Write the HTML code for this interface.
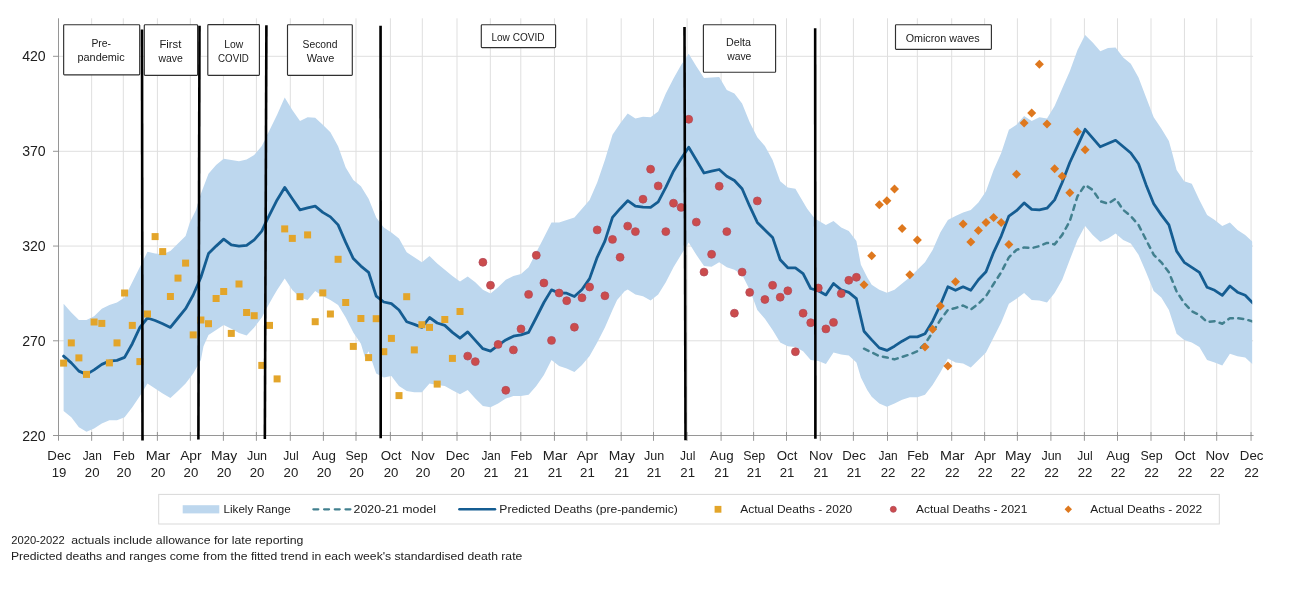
<!DOCTYPE html>
<html lang="en"><head><meta charset="utf-8"><title>Weekly deaths: predicted vs actual</title>
<style>
html,body{margin:0;padding:0;background:#fff;}
body{width:1314px;height:589px;overflow:hidden;font-family:"Liberation Sans", sans-serif;}
svg{display:block;}
text{font-family:"Liberation Sans", sans-serif;fill:#202020;}
.ax{font-size:14.1px;}
.xl{font-size:13.2px;text-anchor:middle;}
.bx{font-size:10px;text-anchor:middle;}
.lg{font-size:11.6px;}
.fn{font-size:10.5px;}
</style></head><body>
<svg width="1314" height="589" viewBox="0 0 1314 589">
<rect x="0" y="0" width="1314" height="589" fill="#ffffff"/>
<defs><clipPath id="plot"><rect x="58.5" y="18.3" width="1193.7" height="423.2"/></clipPath></defs>

<g stroke="#dfdfdf" stroke-width="1" fill="none">
<line x1="91.65" y1="18.3" x2="91.65" y2="435.5"/>
<line x1="123.3" y1="18.3" x2="123.3" y2="435.5"/>
<line x1="157.4" y1="18.3" x2="157.4" y2="435.5"/>
<line x1="190.35" y1="18.3" x2="190.35" y2="435.5"/>
<line x1="223.4" y1="18.3" x2="223.4" y2="435.5"/>
<line x1="256.4" y1="18.3" x2="256.4" y2="435.5"/>
<line x1="290.3" y1="18.3" x2="290.3" y2="435.5"/>
<line x1="323.4" y1="18.3" x2="323.4" y2="435.5"/>
<line x1="356.0" y1="18.3" x2="356.0" y2="435.5"/>
<line x1="390.4" y1="18.3" x2="390.4" y2="435.5"/>
<line x1="422.3" y1="18.3" x2="422.3" y2="435.5"/>
<line x1="457.0" y1="18.3" x2="457.0" y2="435.5"/>
<line x1="490.35" y1="18.3" x2="490.35" y2="435.5"/>
<line x1="520.8" y1="18.3" x2="520.8" y2="435.5"/>
<line x1="554.45" y1="18.3" x2="554.45" y2="435.5"/>
<line x1="586.8" y1="18.3" x2="586.8" y2="435.5"/>
<line x1="621.2" y1="18.3" x2="621.2" y2="435.5"/>
<line x1="653.5" y1="18.3" x2="653.5" y2="435.5"/>
<line x1="687.1" y1="18.3" x2="687.1" y2="435.5"/>
<line x1="721.1" y1="18.3" x2="721.1" y2="435.5"/>
<line x1="753.6" y1="18.3" x2="753.6" y2="435.5"/>
<line x1="786.5" y1="18.3" x2="786.5" y2="435.5"/>
<line x1="820.3" y1="18.3" x2="820.3" y2="435.5"/>
<line x1="853.4" y1="18.3" x2="853.4" y2="435.5"/>
<line x1="887.5" y1="18.3" x2="887.5" y2="435.5"/>
<line x1="917.35" y1="18.3" x2="917.35" y2="435.5"/>
<line x1="951.7" y1="18.3" x2="951.7" y2="435.5"/>
<line x1="984.6" y1="18.3" x2="984.6" y2="435.5"/>
<line x1="1017.4" y1="18.3" x2="1017.4" y2="435.5"/>
<line x1="1050.9" y1="18.3" x2="1050.9" y2="435.5"/>
<line x1="1084.4" y1="18.3" x2="1084.4" y2="435.5"/>
<line x1="1117.5" y1="18.3" x2="1117.5" y2="435.5"/>
<line x1="1151.0" y1="18.3" x2="1151.0" y2="435.5"/>
<line x1="1184.45" y1="18.3" x2="1184.45" y2="435.5"/>
<line x1="1216.7" y1="18.3" x2="1216.7" y2="435.5"/>
<line x1="1251.05" y1="18.3" x2="1251.05" y2="435.5"/>
<line x1="58.5" y1="56.3" x2="1253.1" y2="56.3"/>
<line x1="58.5" y1="151.3" x2="1253.1" y2="151.3"/>
<line x1="58.5" y1="246.05" x2="1253.1" y2="246.05"/>
<line x1="58.5" y1="340.8" x2="1253.1" y2="340.8"/>
</g>
<g clip-path="url(#plot)"><polygon points="63.6,303.7 71.3,312.5 78.9,320.0 86.5,320.0 94.1,316.2 101.8,308.7 109.4,305.0 117.0,302.5 124.6,297.5 147.5,251.8 155.1,253.6 162.7,254.3 170.4,251.1 178.0,243.6 185.6,236.1 189.8,222.4 196.0,209.9 200.9,193.7 208.5,173.7 216.1,165.0 223.7,158.7 231.3,160.0 239.0,161.2 246.6,159.5 254.2,155.0 261.8,146.0 277.1,114.8 284.7,97.4 292.3,109.9 300.0,121.1 307.6,117.3 315.2,117.8 322.8,124.8 330.4,132.3 338.1,146.2 345.7,167.5 353.3,180.0 360.9,186.2 368.6,198.7 376.2,217.4 383.8,227.4 391.4,232.4 399.0,238.6 406.7,252.3 414.3,257.3 421.9,262.3 429.5,256.1 437.2,263.6 444.8,269.8 452.4,276.1 460.0,281.6 467.7,276.6 475.3,282.3 482.9,289.8 490.5,293.5 498.1,287.3 505.8,279.8 513.4,276.1 521.0,274.1 528.6,267.3 536.3,252.3 543.9,237.4 551.5,222.4 559.1,222.4 566.7,219.9 574.4,217.4 582.0,208.7 589.6,199.9 597.2,182.5 604.9,160.0 612.5,134.8 620.1,123.6 627.7,113.6 635.4,118.6 643.0,116.8 650.6,117.3 658.2,111.5 665.8,93.6 673.5,78.6 681.1,64.9 688.7,53.7 696.3,66.2 704.0,77.9 711.6,77.4 719.2,76.9 726.8,89.9 734.4,93.6 742.1,103.6 749.7,122.3 757.3,137.3 764.9,146.0 772.6,160.0 780.2,181.2 787.8,187.4 795.4,188.7 799.8,196.2 807.2,208.7 814.7,218.6 825.9,224.9 833.5,221.1 841.2,227.4 848.8,231.1 856.4,241.1 860.9,264.8 867.2,277.3 871.7,284.8 879.3,289.8 886.9,292.8 894.5,289.8 902.1,283.5 909.8,277.3 917.4,269.8 925.0,262.3 932.6,249.9 940.3,232.4 947.9,219.9 955.5,216.1 963.1,212.4 970.8,209.9 978.4,202.4 986.0,191.2 993.6,170.0 1001.2,153.0 1008.9,129.8 1016.5,124.8 1024.1,116.1 1031.7,121.1 1039.4,117.3 1047.0,118.6 1054.6,106.1 1062.2,88.6 1069.8,71.2 1077.5,49.9 1085.1,35.0 1092.7,42.5 1100.3,51.2 1108.0,47.9 1115.6,47.4 1123.2,57.4 1130.8,63.7 1138.5,77.4 1146.1,97.4 1153.7,117.3 1161.3,128.6 1168.9,141.0 1172.2,153.0 1176.6,170.0 1184.2,181.2 1191.8,183.7 1199.4,199.9 1207.1,214.9 1214.7,219.9 1222.3,226.1 1229.9,222.4 1237.5,229.9 1245.2,234.9 1252.8,242.0 1252.8,364.5 1245.2,357.4 1237.5,356.2 1229.9,353.7 1222.3,365.6 1214.7,362.4 1207.1,359.9 1199.4,346.9 1191.8,342.4 1184.2,339.9 1176.6,333.7 1168.9,310.0 1161.3,297.5 1153.7,291.0 1146.1,272.3 1138.5,254.8 1130.8,243.6 1123.2,239.9 1115.6,233.6 1108.0,238.6 1100.3,241.9 1092.7,234.9 1085.1,226.1 1077.5,239.9 1069.8,259.8 1062.2,279.8 1054.6,293.0 1047.0,302.5 1039.4,300.5 1031.7,300.0 1024.1,293.0 1016.5,298.7 1008.9,303.7 1001.2,322.4 993.6,337.4 986.0,352.4 978.4,359.9 970.8,367.4 963.1,363.4 955.5,362.4 947.9,358.6 940.3,372.4 932.6,384.9 925.0,394.8 917.4,397.3 909.8,397.3 902.1,399.8 894.5,403.6 886.9,406.8 879.3,403.6 871.7,396.8 867.2,389.9 860.9,377.4 856.4,362.4 848.8,355.4 841.2,354.4 833.5,352.4 825.9,364.1 818.3,361.1 810.7,359.9 803.1,351.2 795.4,346.9 787.8,346.2 780.2,342.4 772.6,329.9 764.9,318.7 757.3,310.0 753.6,300.0 749.7,289.8 742.1,274.8 734.4,269.8 726.8,267.3 719.2,262.3 711.6,266.8 704.0,266.1 696.3,254.8 688.7,242.4 681.1,254.8 673.5,267.3 665.8,282.3 658.2,294.5 650.6,300.5 643.0,296.2 635.4,294.5 627.7,289.5 624.6,291.2 617.1,300.0 612.5,310.0 604.9,327.4 597.2,342.4 589.6,356.1 582.0,364.9 574.4,371.9 566.7,368.6 559.1,366.1 551.5,359.9 543.9,374.9 536.3,386.1 528.6,394.8 521.0,396.1 513.4,396.1 505.8,398.6 498.1,403.6 490.5,407.3 482.9,406.1 475.3,398.6 467.7,389.9 460.0,394.3 452.4,390.3 444.8,386.1 437.2,384.9 429.5,383.6 421.9,392.3 414.3,392.3 406.7,391.1 399.0,386.1 391.4,376.1 383.8,377.4 376.2,373.6 368.6,351.2 365.0,357.4 360.9,343.7 353.3,332.4 345.7,317.5 338.1,305.0 330.4,300.0 322.8,296.2 315.2,291.0 307.6,300.0 300.0,297.5 292.3,290.0 284.7,278.6 277.1,290.0 273.4,296.2 266.4,308.7 261.8,317.5 254.2,327.4 246.6,335.4 239.0,332.9 231.3,328.7 223.7,324.9 216.1,329.9 208.5,334.9 203.5,346.2 200.9,359.9 193.2,373.6 185.6,383.6 178.0,391.1 170.4,398.1 162.7,393.6 155.1,388.6 147.5,383.6 139.9,396.1 132.3,407.3 124.6,417.3 117.0,420.3 109.4,420.3 101.8,423.5 94.1,428.5 86.5,431.8 78.9,427.3 71.3,417.3 63.6,411.1" fill="#bdd7ee"/></g>
<g stroke="#8a8a8a" stroke-width="0.9" fill="none">
<line x1="58.5" y1="18.3" x2="58.5" y2="440.7"/>
<line x1="53.0" y1="435.5" x2="1253.6" y2="435.5"/>
<line x1="53.0" y1="56.3" x2="58.5" y2="56.3"/>
<line x1="53.0" y1="151.3" x2="58.5" y2="151.3"/>
<line x1="53.0" y1="246.05" x2="58.5" y2="246.05"/>
<line x1="53.0" y1="340.8" x2="58.5" y2="340.8"/>
<line x1="91.65" y1="432.0" x2="91.65" y2="440.8"/>
<line x1="123.3" y1="432.0" x2="123.3" y2="440.8"/>
<line x1="157.4" y1="432.0" x2="157.4" y2="440.8"/>
<line x1="190.35" y1="432.0" x2="190.35" y2="440.8"/>
<line x1="223.4" y1="432.0" x2="223.4" y2="440.8"/>
<line x1="256.4" y1="432.0" x2="256.4" y2="440.8"/>
<line x1="290.3" y1="432.0" x2="290.3" y2="440.8"/>
<line x1="323.4" y1="432.0" x2="323.4" y2="440.8"/>
<line x1="356.0" y1="432.0" x2="356.0" y2="440.8"/>
<line x1="390.4" y1="432.0" x2="390.4" y2="440.8"/>
<line x1="422.3" y1="432.0" x2="422.3" y2="440.8"/>
<line x1="457.0" y1="432.0" x2="457.0" y2="440.8"/>
<line x1="490.35" y1="432.0" x2="490.35" y2="440.8"/>
<line x1="520.8" y1="432.0" x2="520.8" y2="440.8"/>
<line x1="554.45" y1="432.0" x2="554.45" y2="440.8"/>
<line x1="586.8" y1="432.0" x2="586.8" y2="440.8"/>
<line x1="621.2" y1="432.0" x2="621.2" y2="440.8"/>
<line x1="653.5" y1="432.0" x2="653.5" y2="440.8"/>
<line x1="687.1" y1="432.0" x2="687.1" y2="440.8"/>
<line x1="721.1" y1="432.0" x2="721.1" y2="440.8"/>
<line x1="753.6" y1="432.0" x2="753.6" y2="440.8"/>
<line x1="786.5" y1="432.0" x2="786.5" y2="440.8"/>
<line x1="820.3" y1="432.0" x2="820.3" y2="440.8"/>
<line x1="853.4" y1="432.0" x2="853.4" y2="440.8"/>
<line x1="887.5" y1="432.0" x2="887.5" y2="440.8"/>
<line x1="917.35" y1="432.0" x2="917.35" y2="440.8"/>
<line x1="951.7" y1="432.0" x2="951.7" y2="440.8"/>
<line x1="984.6" y1="432.0" x2="984.6" y2="440.8"/>
<line x1="1017.4" y1="432.0" x2="1017.4" y2="440.8"/>
<line x1="1050.9" y1="432.0" x2="1050.9" y2="440.8"/>
<line x1="1084.4" y1="432.0" x2="1084.4" y2="440.8"/>
<line x1="1117.5" y1="432.0" x2="1117.5" y2="440.8"/>
<line x1="1151.0" y1="432.0" x2="1151.0" y2="440.8"/>
<line x1="1184.45" y1="432.0" x2="1184.45" y2="440.8"/>
<line x1="1216.7" y1="432.0" x2="1216.7" y2="440.8"/>
<line x1="1251.05" y1="432.0" x2="1251.05" y2="440.8"/>
</g>
<g clip-path="url(#plot)" fill="none" stroke-linejoin="round" stroke-linecap="round">
<polyline points="864.0,348.7 871.7,352.4 879.3,356.1 886.9,357.4 894.5,359.4 902.1,356.9 909.8,354.4 917.4,351.2 925.0,343.7 932.6,332.4 940.3,320.0 947.9,309.8 955.5,308.0 963.1,305.5 970.8,309.5 978.4,303.7 986.0,296.2 993.6,284.0 1001.2,272.3 1008.9,257.3 1016.5,249.9 1024.1,247.4 1031.7,248.1 1039.4,246.1 1047.0,242.9 1054.6,244.4 1062.2,234.9 1069.8,221.1 1077.5,196.2 1085.1,184.9 1092.7,189.9 1100.3,201.2 1108.0,203.7 1115.6,198.7 1123.2,209.9 1130.8,216.1 1138.5,224.9 1146.1,239.9 1153.7,254.8 1161.3,262.3 1168.9,272.3 1176.6,291.5 1184.2,303.0 1191.8,311.2 1199.4,315.0 1207.1,322.0 1214.7,321.2 1222.3,323.7 1229.9,318.2 1237.5,318.2 1245.2,319.2 1252.8,321.5" stroke="#42808f" stroke-width="2.5" stroke-dasharray="5 5.3" stroke-linecap="round"/>
<polyline points="63.6,356.1 71.3,362.9 78.9,371.1 86.5,374.4 94.1,369.9 101.8,364.4 109.4,361.1 117.0,360.4 124.6,357.4 132.3,343.7 139.9,327.4 147.5,318.0 155.1,320.5 162.7,323.7 170.4,327.4 178.0,318.0 185.6,308.7 193.2,295.0 200.9,277.3 208.5,253.6 216.1,246.1 223.7,239.1 231.3,244.9 239.0,246.1 246.6,245.4 254.2,239.9 261.8,231.1 266.4,221.1 277.1,199.9 284.7,187.4 292.3,198.7 300.0,209.9 307.6,207.9 315.2,206.2 322.8,212.4 330.4,216.9 338.1,224.9 345.7,242.4 353.3,258.6 360.9,266.1 368.6,272.3 376.2,296.1 383.8,302.0 391.4,303.7 399.0,310.0 406.7,321.7 414.3,324.4 421.9,327.4 429.5,317.5 437.2,323.0 444.8,325.4 452.4,332.4 460.0,338.2 467.7,331.9 475.3,340.4 482.9,348.7 490.5,351.2 498.1,345.4 505.8,339.9 513.4,336.2 521.0,334.9 528.6,332.4 536.3,317.5 543.9,302.5 551.5,289.9 559.1,293.0 566.7,293.2 574.4,296.5 582.0,289.5 589.6,278.6 597.2,257.3 604.9,241.1 612.5,217.4 620.1,208.7 627.7,200.7 635.4,206.2 643.0,207.2 650.6,207.4 658.2,201.9 665.8,187.4 673.5,171.2 681.1,158.7 688.7,147.2 696.3,160.0 704.0,173.0 711.6,171.2 719.2,169.5 726.8,176.2 734.4,180.5 742.1,188.7 749.7,206.2 757.3,222.4 764.9,229.9 772.6,237.4 780.2,259.8 787.8,267.8 795.4,267.8 803.1,273.6 810.7,288.5 818.3,290.7 825.9,294.9 833.5,283.5 841.2,289.9 848.8,292.4 856.4,298.7 864.0,331.2 871.7,339.9 879.3,347.9 886.9,350.4 894.5,346.2 902.1,341.2 909.8,336.9 917.4,336.9 925.0,333.7 932.6,321.2 940.3,305.0 947.9,286.8 955.5,290.3 963.1,286.8 970.8,290.3 978.4,279.8 986.0,271.8 993.6,252.3 1001.2,236.1 1008.9,216.1 1016.5,210.7 1024.1,202.9 1031.7,209.4 1039.4,209.9 1047.0,208.2 1054.6,199.9 1062.2,182.5 1069.8,162.5 1077.5,145.8 1085.1,129.3 1100.3,146.8 1115.6,140.3 1130.8,153.0 1138.5,163.7 1146.1,184.9 1153.7,203.7 1161.3,214.9 1168.9,224.9 1176.6,251.1 1184.2,262.3 1191.8,267.3 1199.4,272.3 1207.1,287.3 1214.7,290.3 1222.3,295.4 1229.9,286.0 1237.5,292.2 1245.2,295.2 1252.8,303.0" stroke="#155d92" stroke-width="2.8"/>
</g>
<g fill="#e3a52a">
<rect x="60.1" y="359.6" width="7" height="7"/>
<rect x="67.8" y="339.4" width="7" height="7"/>
<rect x="75.4" y="354.4" width="7" height="7"/>
<rect x="83.0" y="370.9" width="7" height="7"/>
<rect x="90.6" y="318.5" width="7" height="7"/>
<rect x="98.3" y="319.9" width="7" height="7"/>
<rect x="105.9" y="359.4" width="7" height="7"/>
<rect x="113.5" y="339.4" width="7" height="7"/>
<rect x="121.1" y="289.5" width="7" height="7"/>
<rect x="128.8" y="321.9" width="7" height="7"/>
<rect x="136.4" y="358.1" width="7" height="7"/>
<rect x="144.0" y="310.5" width="7" height="7"/>
<rect x="151.6" y="233.1" width="7" height="7"/>
<rect x="159.2" y="248.1" width="7" height="7"/>
<rect x="166.9" y="293.0" width="7" height="7"/>
<rect x="174.5" y="274.6" width="7" height="7"/>
<rect x="182.1" y="259.6" width="7" height="7"/>
<rect x="189.7" y="331.4" width="7" height="7"/>
<rect x="197.4" y="316.5" width="7" height="7"/>
<rect x="205.0" y="320.2" width="7" height="7"/>
<rect x="212.6" y="295.0" width="7" height="7"/>
<rect x="220.2" y="288.0" width="7" height="7"/>
<rect x="227.8" y="329.9" width="7" height="7"/>
<rect x="235.5" y="280.5" width="7" height="7"/>
<rect x="243.1" y="309.0" width="7" height="7"/>
<rect x="250.7" y="312.2" width="7" height="7"/>
<rect x="258.3" y="361.9" width="7" height="7"/>
<rect x="266.0" y="321.9" width="7" height="7"/>
<rect x="273.6" y="375.4" width="7" height="7"/>
<rect x="281.2" y="225.4" width="7" height="7"/>
<rect x="288.8" y="234.9" width="7" height="7"/>
<rect x="296.5" y="293.2" width="7" height="7"/>
<rect x="304.1" y="231.4" width="7" height="7"/>
<rect x="311.7" y="318.2" width="7" height="7"/>
<rect x="319.3" y="289.4" width="7" height="7"/>
<rect x="326.9" y="310.5" width="7" height="7"/>
<rect x="334.6" y="255.8" width="7" height="7"/>
<rect x="342.2" y="299.0" width="7" height="7"/>
<rect x="349.8" y="342.9" width="7" height="7"/>
<rect x="357.4" y="315.0" width="7" height="7"/>
<rect x="365.1" y="354.1" width="7" height="7"/>
<rect x="372.7" y="315.2" width="7" height="7"/>
<rect x="380.3" y="348.2" width="7" height="7"/>
<rect x="387.9" y="334.9" width="7" height="7"/>
<rect x="395.5" y="392.1" width="7" height="7"/>
<rect x="403.2" y="293.2" width="7" height="7"/>
<rect x="410.8" y="346.4" width="7" height="7"/>
<rect x="418.4" y="321.2" width="7" height="7"/>
<rect x="426.0" y="323.9" width="7" height="7"/>
<rect x="433.7" y="380.6" width="7" height="7"/>
<rect x="441.3" y="316.0" width="7" height="7"/>
<rect x="448.9" y="354.9" width="7" height="7"/>
<rect x="456.5" y="308.0" width="7" height="7"/>
</g><g fill="#cb4c4c" stroke="#b4495a" stroke-width="0.8">
<circle cx="467.7" cy="356.1" r="3.95"/>
<circle cx="475.3" cy="361.6" r="3.95"/>
<circle cx="482.9" cy="262.3" r="3.95"/>
<circle cx="490.5" cy="285.3" r="3.95"/>
<circle cx="498.1" cy="344.4" r="3.95"/>
<circle cx="505.8" cy="390.3" r="3.95"/>
<circle cx="513.4" cy="349.9" r="3.95"/>
<circle cx="521.0" cy="328.9" r="3.95"/>
<circle cx="528.6" cy="294.4" r="3.95"/>
<circle cx="536.3" cy="255.3" r="3.95"/>
<circle cx="543.9" cy="283.0" r="3.95"/>
<circle cx="551.5" cy="340.4" r="3.95"/>
<circle cx="559.1" cy="293.0" r="3.95"/>
<circle cx="566.7" cy="300.7" r="3.95"/>
<circle cx="574.4" cy="327.2" r="3.95"/>
<circle cx="582.0" cy="297.8" r="3.95"/>
<circle cx="589.6" cy="287.0" r="3.95"/>
<circle cx="597.2" cy="229.9" r="3.95"/>
<circle cx="604.9" cy="295.8" r="3.95"/>
<circle cx="612.5" cy="239.4" r="3.95"/>
<circle cx="620.1" cy="257.3" r="3.95"/>
<circle cx="627.7" cy="226.1" r="3.95"/>
<circle cx="635.4" cy="231.6" r="3.95"/>
<circle cx="643.0" cy="199.2" r="3.95"/>
<circle cx="650.6" cy="169.2" r="3.95"/>
<circle cx="658.2" cy="185.9" r="3.95"/>
<circle cx="665.8" cy="231.6" r="3.95"/>
<circle cx="673.5" cy="203.2" r="3.95"/>
<circle cx="681.1" cy="207.4" r="3.95"/>
<circle cx="688.7" cy="119.3" r="3.95"/>
<circle cx="696.3" cy="222.1" r="3.95"/>
<circle cx="704.0" cy="272.1" r="3.95"/>
<circle cx="711.6" cy="254.3" r="3.95"/>
<circle cx="719.2" cy="186.2" r="3.95"/>
<circle cx="726.8" cy="231.6" r="3.95"/>
<circle cx="734.4" cy="313.2" r="3.95"/>
<circle cx="742.1" cy="272.1" r="3.95"/>
<circle cx="749.7" cy="292.4" r="3.95"/>
<circle cx="757.3" cy="200.9" r="3.95"/>
<circle cx="764.9" cy="299.5" r="3.95"/>
<circle cx="772.6" cy="285.3" r="3.95"/>
<circle cx="780.2" cy="297.2" r="3.95"/>
<circle cx="787.8" cy="290.8" r="3.95"/>
<circle cx="795.4" cy="351.7" r="3.95"/>
<circle cx="803.1" cy="313.2" r="3.95"/>
<circle cx="810.7" cy="322.7" r="3.95"/>
<circle cx="818.3" cy="288.0" r="3.95"/>
<circle cx="825.9" cy="328.9" r="3.95"/>
<circle cx="833.5" cy="322.4" r="3.95"/>
<circle cx="841.2" cy="293.6" r="3.95"/>
<circle cx="848.8" cy="280.3" r="3.95"/>
<circle cx="856.4" cy="277.3" r="3.95"/>
</g><g fill="#de781e">
<path d="M864.0 280.3l4.5 4.5l-4.5 4.5l-4.5 -4.5z"/>
<path d="M871.7 251.3l4.5 4.5l-4.5 4.5l-4.5 -4.5z"/>
<path d="M879.3 200.2l4.5 4.5l-4.5 4.5l-4.5 -4.5z"/>
<path d="M886.9 196.2l4.5 4.5l-4.5 4.5l-4.5 -4.5z"/>
<path d="M894.5 184.4l4.5 4.5l-4.5 4.5l-4.5 -4.5z"/>
<path d="M902.1 224.1l4.5 4.5l-4.5 4.5l-4.5 -4.5z"/>
<path d="M909.8 270.3l4.5 4.5l-4.5 4.5l-4.5 -4.5z"/>
<path d="M917.4 235.4l4.5 4.5l-4.5 4.5l-4.5 -4.5z"/>
<path d="M925.0 342.4l4.5 4.5l-4.5 4.5l-4.5 -4.5z"/>
<path d="M932.6 324.7l4.5 4.5l-4.5 4.5l-4.5 -4.5z"/>
<path d="M940.3 301.5l4.5 4.5l-4.5 4.5l-4.5 -4.5z"/>
<path d="M947.9 361.6l4.5 4.5l-4.5 4.5l-4.5 -4.5z"/>
<path d="M955.5 277.3l4.5 4.5l-4.5 4.5l-4.5 -4.5z"/>
<path d="M963.1 219.4l4.5 4.5l-4.5 4.5l-4.5 -4.5z"/>
<path d="M970.8 237.4l4.5 4.5l-4.5 4.5l-4.5 -4.5z"/>
<path d="M978.4 225.9l4.5 4.5l-4.5 4.5l-4.5 -4.5z"/>
<path d="M986.0 217.9l4.5 4.5l-4.5 4.5l-4.5 -4.5z"/>
<path d="M993.6 212.9l4.5 4.5l-4.5 4.5l-4.5 -4.5z"/>
<path d="M1001.2 217.9l4.5 4.5l-4.5 4.5l-4.5 -4.5z"/>
<path d="M1008.9 239.9l4.5 4.5l-4.5 4.5l-4.5 -4.5z"/>
<path d="M1016.5 169.7l4.5 4.5l-4.5 4.5l-4.5 -4.5z"/>
<path d="M1024.1 118.6l4.5 4.5l-4.5 4.5l-4.5 -4.5z"/>
<path d="M1031.7 108.6l4.5 4.5l-4.5 4.5l-4.5 -4.5z"/>
<path d="M1039.4 59.7l4.5 4.5l-4.5 4.5l-4.5 -4.5z"/>
<path d="M1047.0 119.6l4.5 4.5l-4.5 4.5l-4.5 -4.5z"/>
<path d="M1054.6 164.2l4.5 4.5l-4.5 4.5l-4.5 -4.5z"/>
<path d="M1062.2 171.7l4.5 4.5l-4.5 4.5l-4.5 -4.5z"/>
<path d="M1069.8 188.2l4.5 4.5l-4.5 4.5l-4.5 -4.5z"/>
<path d="M1077.5 127.3l4.5 4.5l-4.5 4.5l-4.5 -4.5z"/>
<path d="M1085.1 145.3l4.5 4.5l-4.5 4.5l-4.5 -4.5z"/>
</g>
<g stroke="#000" stroke-width="2.6" fill="none">
<line x1="142.0" y1="29.4" x2="142.5" y2="440.5"/>
<line x1="199.5" y1="25.8" x2="198.4" y2="439.6"/>
<line x1="266.4" y1="25.2" x2="264.85" y2="439.0"/>
<line x1="380.55" y1="25.7" x2="380.7" y2="438.2"/>
<line x1="684.5" y1="27.0" x2="685.5" y2="440.2"/>
<line x1="815.15" y1="28.2" x2="815.4" y2="438.7"/>
</g>
<rect x="63.65" y="24.75" width="76.05" height="50.15" rx="0.8" fill="#fff" stroke="#303030" stroke-width="1.15"/>
<text class="bx" x="101.2" y="47.0" textLength="19.6" lengthAdjust="spacingAndGlyphs">Pre-</text>
<text class="bx" x="101.1" y="60.9" textLength="47.2" lengthAdjust="spacingAndGlyphs">pandemic</text>
<rect x="144.3" y="24.75" width="53.30" height="50.55" rx="0.8" fill="#fff" stroke="#303030" stroke-width="1.15"/>
<text class="bx" x="170.4" y="47.9" textLength="22.0" lengthAdjust="spacingAndGlyphs">First</text>
<text class="bx" x="170.7" y="61.9" textLength="24.5" lengthAdjust="spacingAndGlyphs">wave</text>
<rect x="207.8" y="24.6" width="51.60" height="50.70" rx="0.8" fill="#fff" stroke="#303030" stroke-width="1.15"/>
<text class="bx" x="233.7" y="47.9" textLength="19.0" lengthAdjust="spacingAndGlyphs">Low</text>
<text class="bx" x="233.5" y="61.9" textLength="30.8" lengthAdjust="spacingAndGlyphs">COVID</text>
<rect x="287.5" y="24.75" width="64.80" height="50.55" rx="0.8" fill="#fff" stroke="#303030" stroke-width="1.15"/>
<text class="bx" x="320.1" y="47.9" textLength="35.0" lengthAdjust="spacingAndGlyphs">Second</text>
<text class="bx" x="320.5" y="61.9" textLength="27.6" lengthAdjust="spacingAndGlyphs">Wave</text>
<rect x="481.3" y="24.75" width="74.30" height="22.85" rx="0.8" fill="#fff" stroke="#303030" stroke-width="1.15"/>
<text class="bx" x="518.0" y="40.8" textLength="53.1" lengthAdjust="spacingAndGlyphs">Low COVID</text>
<rect x="703.4" y="24.75" width="72.20" height="47.45" rx="0.8" fill="#fff" stroke="#303030" stroke-width="1.15"/>
<text class="bx" x="738.5" y="46.0" textLength="25.0" lengthAdjust="spacingAndGlyphs">Delta</text>
<text class="bx" x="739.3" y="60.1" textLength="24.2" lengthAdjust="spacingAndGlyphs">wave</text>
<rect x="895.5" y="24.75" width="95.90" height="24.60" rx="0.8" fill="#fff" stroke="#303030" stroke-width="1.15"/>
<text class="bx" x="942.7" y="41.5" textLength="74.0" lengthAdjust="spacingAndGlyphs">Omicron waves</text>
<text class="ax" x="45.7" y="61.3" text-anchor="end">420</text>
<text class="ax" x="45.7" y="156.3" text-anchor="end">370</text>
<text class="ax" x="45.7" y="251.1" text-anchor="end">320</text>
<text class="ax" x="45.7" y="345.8" text-anchor="end">270</text>
<text class="ax" x="45.7" y="440.5" text-anchor="end">220</text>
<text class="xl" x="59.1" y="459.7" textLength="23.6" lengthAdjust="spacingAndGlyphs">Dec</text>
<text class="xl" x="59.1" y="476.9">19</text>
<text class="xl" x="92.2" y="459.7" textLength="19.1" lengthAdjust="spacingAndGlyphs">Jan</text>
<text class="xl" x="92.2" y="476.9">20</text>
<text class="xl" x="123.9" y="459.7" textLength="21.6" lengthAdjust="spacingAndGlyphs">Feb</text>
<text class="xl" x="123.9" y="476.9">20</text>
<text class="xl" x="158.0" y="459.7" textLength="24.7" lengthAdjust="spacingAndGlyphs">Mar</text>
<text class="xl" x="158.0" y="476.9">20</text>
<text class="xl" x="190.9" y="459.7" textLength="21.5" lengthAdjust="spacingAndGlyphs">Apr</text>
<text class="xl" x="190.9" y="476.9">20</text>
<text class="xl" x="224.0" y="459.7" textLength="26.2" lengthAdjust="spacingAndGlyphs">May</text>
<text class="xl" x="224.0" y="476.9">20</text>
<text class="xl" x="257.0" y="459.7" textLength="20.2" lengthAdjust="spacingAndGlyphs">Jun</text>
<text class="xl" x="257.0" y="476.9">20</text>
<text class="xl" x="290.9" y="459.7" textLength="15.3" lengthAdjust="spacingAndGlyphs">Jul</text>
<text class="xl" x="290.9" y="476.9">20</text>
<text class="xl" x="324.0" y="459.7" textLength="23.7" lengthAdjust="spacingAndGlyphs">Aug</text>
<text class="xl" x="324.0" y="476.9">20</text>
<text class="xl" x="356.6" y="459.7" textLength="22.1" lengthAdjust="spacingAndGlyphs">Sep</text>
<text class="xl" x="356.6" y="476.9">20</text>
<text class="xl" x="391.0" y="459.7" textLength="20.7" lengthAdjust="spacingAndGlyphs">Oct</text>
<text class="xl" x="391.0" y="476.9">20</text>
<text class="xl" x="422.9" y="459.7" textLength="23.8" lengthAdjust="spacingAndGlyphs">Nov</text>
<text class="xl" x="422.9" y="476.9">20</text>
<text class="xl" x="457.6" y="459.7" textLength="23.6" lengthAdjust="spacingAndGlyphs">Dec</text>
<text class="xl" x="457.6" y="476.9">20</text>
<text class="xl" x="491.0" y="459.7" textLength="19.1" lengthAdjust="spacingAndGlyphs">Jan</text>
<text class="xl" x="491.0" y="476.9">21</text>
<text class="xl" x="521.4" y="459.7" textLength="21.6" lengthAdjust="spacingAndGlyphs">Feb</text>
<text class="xl" x="521.4" y="476.9">21</text>
<text class="xl" x="555.1" y="459.7" textLength="24.7" lengthAdjust="spacingAndGlyphs">Mar</text>
<text class="xl" x="555.1" y="476.9">21</text>
<text class="xl" x="587.4" y="459.7" textLength="21.5" lengthAdjust="spacingAndGlyphs">Apr</text>
<text class="xl" x="587.4" y="476.9">21</text>
<text class="xl" x="621.8" y="459.7" textLength="26.2" lengthAdjust="spacingAndGlyphs">May</text>
<text class="xl" x="621.8" y="476.9">21</text>
<text class="xl" x="654.1" y="459.7" textLength="20.2" lengthAdjust="spacingAndGlyphs">Jun</text>
<text class="xl" x="654.1" y="476.9">21</text>
<text class="xl" x="687.7" y="459.7" textLength="15.3" lengthAdjust="spacingAndGlyphs">Jul</text>
<text class="xl" x="687.7" y="476.9">21</text>
<text class="xl" x="721.7" y="459.7" textLength="23.7" lengthAdjust="spacingAndGlyphs">Aug</text>
<text class="xl" x="721.7" y="476.9">21</text>
<text class="xl" x="754.2" y="459.7" textLength="22.1" lengthAdjust="spacingAndGlyphs">Sep</text>
<text class="xl" x="754.2" y="476.9">21</text>
<text class="xl" x="787.1" y="459.7" textLength="20.7" lengthAdjust="spacingAndGlyphs">Oct</text>
<text class="xl" x="787.1" y="476.9">21</text>
<text class="xl" x="820.9" y="459.7" textLength="23.8" lengthAdjust="spacingAndGlyphs">Nov</text>
<text class="xl" x="820.9" y="476.9">21</text>
<text class="xl" x="854.0" y="459.7" textLength="23.6" lengthAdjust="spacingAndGlyphs">Dec</text>
<text class="xl" x="854.0" y="476.9">21</text>
<text class="xl" x="888.1" y="459.7" textLength="19.1" lengthAdjust="spacingAndGlyphs">Jan</text>
<text class="xl" x="888.1" y="476.9">22</text>
<text class="xl" x="918.0" y="459.7" textLength="21.6" lengthAdjust="spacingAndGlyphs">Feb</text>
<text class="xl" x="918.0" y="476.9">22</text>
<text class="xl" x="952.3" y="459.7" textLength="24.7" lengthAdjust="spacingAndGlyphs">Mar</text>
<text class="xl" x="952.3" y="476.9">22</text>
<text class="xl" x="985.2" y="459.7" textLength="21.5" lengthAdjust="spacingAndGlyphs">Apr</text>
<text class="xl" x="985.2" y="476.9">22</text>
<text class="xl" x="1018.0" y="459.7" textLength="26.2" lengthAdjust="spacingAndGlyphs">May</text>
<text class="xl" x="1018.0" y="476.9">22</text>
<text class="xl" x="1051.5" y="459.7" textLength="20.2" lengthAdjust="spacingAndGlyphs">Jun</text>
<text class="xl" x="1051.5" y="476.9">22</text>
<text class="xl" x="1085.0" y="459.7" textLength="15.3" lengthAdjust="spacingAndGlyphs">Jul</text>
<text class="xl" x="1085.0" y="476.9">22</text>
<text class="xl" x="1118.1" y="459.7" textLength="23.7" lengthAdjust="spacingAndGlyphs">Aug</text>
<text class="xl" x="1118.1" y="476.9">22</text>
<text class="xl" x="1151.6" y="459.7" textLength="22.1" lengthAdjust="spacingAndGlyphs">Sep</text>
<text class="xl" x="1151.6" y="476.9">22</text>
<text class="xl" x="1185.0" y="459.7" textLength="20.7" lengthAdjust="spacingAndGlyphs">Oct</text>
<text class="xl" x="1185.0" y="476.9">22</text>
<text class="xl" x="1217.3" y="459.7" textLength="23.8" lengthAdjust="spacingAndGlyphs">Nov</text>
<text class="xl" x="1217.3" y="476.9">22</text>
<text class="xl" x="1251.6" y="459.7" textLength="23.6" lengthAdjust="spacingAndGlyphs">Dec</text>
<text class="xl" x="1251.6" y="476.9">22</text>
<rect x="158.7" y="494.4" width="1060.6" height="29.6" fill="#fff" stroke="#d9d9d9" stroke-width="1"/>
<rect x="182.7" y="505.2" width="36.6" height="8.2" fill="#bdd7ee"/>
<line x1="313.4" y1="509.3" x2="351" y2="509.3" stroke="#42808f" stroke-width="2.3" stroke-dasharray="4.9 5.8" stroke-linecap="round"/>
<line x1="459.4" y1="509.3" x2="495" y2="509.3" stroke="#155d92" stroke-width="2.5" stroke-linecap="round"/>
<rect x="714.6" y="505.9" width="6.8" height="6.8" fill="#e3a52a"/>
<circle cx="893.3" cy="509.3" r="3.0" fill="#cb4c4c" stroke="#b4495a" stroke-width="0.8"/>
<path d="M1068.3 505.6l3.7 3.7l-3.7 3.7l-3.7 -3.7z" fill="#de781e"/>
<text class="lg" x="223.6" y="512.9" textLength="67.0" lengthAdjust="spacingAndGlyphs">Likely Range</text>
<text class="lg" x="353.6" y="512.9" textLength="82.3" lengthAdjust="spacingAndGlyphs">2020-21 model</text>
<text class="lg" x="499.3" y="512.9" textLength="178.6" lengthAdjust="spacingAndGlyphs">Predicted Deaths (pre-pandemic)</text>
<text class="lg" x="740.3" y="512.9" textLength="112.0" lengthAdjust="spacingAndGlyphs">Actual Deaths - 2020</text>
<text class="lg" x="916.0" y="512.9" textLength="111.3" lengthAdjust="spacingAndGlyphs">Actual Deaths - 2021</text>
<text class="lg" x="1090.3" y="512.9" textLength="112.0" lengthAdjust="spacingAndGlyphs">Actual Deaths - 2022</text>
<text class="fn" x="11.2" y="543.8" textLength="53.6" lengthAdjust="spacingAndGlyphs">2020-2022</text>
<text class="fn" x="71.2" y="543.8" textLength="232.2" lengthAdjust="spacingAndGlyphs">actuals include allowance for late reporting</text>
<text class="fn" x="10.9" y="560.3" textLength="511.4" lengthAdjust="spacingAndGlyphs">Predicted deaths and ranges come from the fitted trend in each week's standardised death rate</text>
</svg></body></html>
